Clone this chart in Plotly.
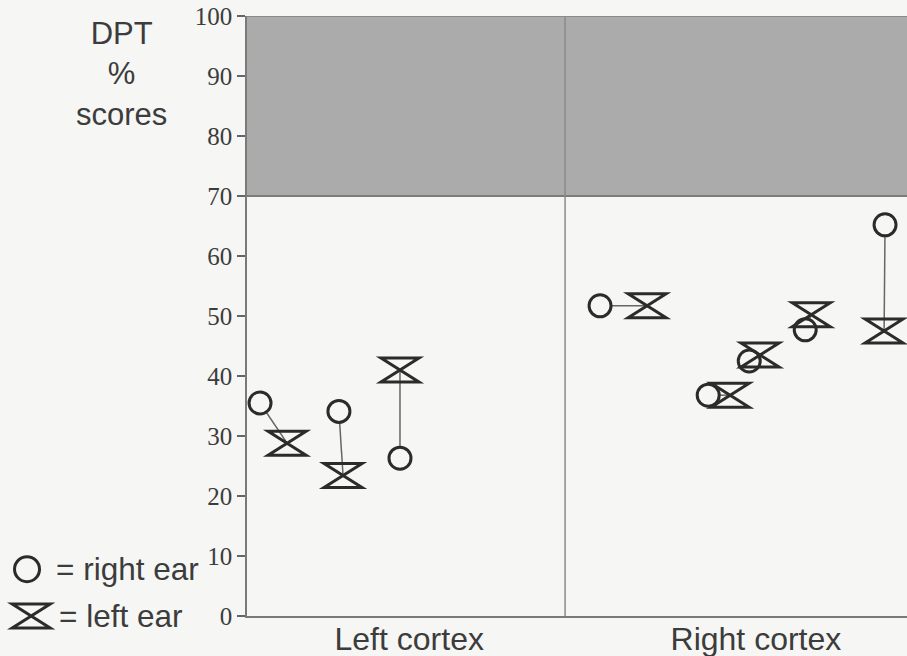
import plotly.graph_objects as go

# ---- data ----
region_labels = ["Left cortex", "Right cortex"]
region_centers = [0.51, 1.60]          # x position of region labels (axis units)
region_divider = 1.0

# x position of each subject's points (axis units)
right_ear_x = [0.041, 0.289, 0.481, 1.110, 1.450, 1.579, 1.755, 2.006]
left_ear_x  = [0.126, 0.302, 0.481, 1.258, 1.519, 1.613, 1.774, 2.003]
# DPT % scores
right_ear_y = [35.5, 34.1, 26.3, 51.7, 36.8, 42.5, 47.7, 65.2]
left_ear_y  = [28.8, 23.4, 41.0, 51.7, 36.8, 43.5, 50.2, 47.5]

y_ticks = [0, 10, 20, 30, 40, 50, 60, 70, 80, 90, 100]
shaded_band = [70, 100]
x_range = [0, 2.075]

BG = "#f6f6f4"
INK = "#2b2b2b"
TXT = "#3c3c3c"
AXIS = "#7a7a7a"
SANS = "Liberation Sans, Arial, sans-serif"
SERIF = "Liberation Serif, Times New Roman, serif"

fig = go.Figure()

# connecting lines between the two ears of each subject
lx, ly = [], []
for xr, yr, xl, yl in zip(right_ear_x, right_ear_y, left_ear_x, left_ear_y):
    lx += [xr, xl, None]
    ly += [yr, yl, None]
fig.add_trace(go.Scatter(x=lx, y=ly, mode="lines",
                         line=dict(color="#666666", width=1.5),
                         hoverinfo="skip", showlegend=False))

# right ear: open circles
fig.add_trace(go.Scatter(x=right_ear_x, y=right_ear_y, mode="markers",
                         name="right ear",
                         marker=dict(symbol="circle", size=22, color=BG,
                                     line=dict(color=INK, width=3)),
                         showlegend=False))

# left ear: invisible anchor trace (hourglass drawn as pixel-sized shapes)
fig.add_trace(go.Scatter(x=left_ear_x, y=left_ear_y, mode="markers",
                         name="left ear",
                         marker=dict(symbol="hourglass-open", size=1, color="rgba(0,0,0,0)"),
                         showlegend=False))

HG_PATH = "M-19,-12 H19 L-19,12 H19 Z"

shapes = []
# shaded band 70-100
shapes.append(dict(type="rect", xref="paper", yref="y", x0=0, x1=1,
                   y0=shaded_band[0], y1=shaded_band[1],
                   fillcolor="#ababab", line=dict(width=0), layer="below"))
# band lower edge
shapes.append(dict(type="line", xref="paper", yref="y", x0=0, x1=1,
                   y0=shaded_band[0], y1=shaded_band[0],
                   line=dict(color="#7c7c7c", width=2), layer="below"))
# top border
shapes.append(dict(type="line", xref="paper", yref="y", x0=0, x1=1,
                   y0=shaded_band[1], y1=shaded_band[1],
                   line=dict(color="#8a8a8a", width=2), layer="below"))
# divider between cortices
shapes.append(dict(type="line", xref="x", yref="y", x0=region_divider, x1=region_divider,
                   y0=0, y1=shaded_band[1],
                   line=dict(color="#8a8a8a", width=1.5), layer="below"))

# hourglass markers for left ear
for xl, yl in zip(left_ear_x, left_ear_y):
    shapes.append(dict(type="path", xref="x", yref="y",
                       xsizemode="pixel", ysizemode="pixel",
                       xanchor=xl, yanchor=yl, path=HG_PATH,
                       line=dict(color=INK, width=3), layer="above"))

# legend symbols
shapes.append(dict(type="circle", xref="paper", yref="paper",
                   xsizemode="pixel", ysizemode="pixel",
                   xanchor=-0.3333, yanchor=0.078,
                   x0=-12.5, x1=12.5, y0=-12.5, y1=12.5,
                   line=dict(color=INK, width=3)))
shapes.append(dict(type="path", xref="paper", yref="paper",
                   xsizemode="pixel", ysizemode="pixel",
                   xanchor=-0.327, yanchor=0.0, path=HG_PATH,
                   line=dict(color=INK, width=3)))

annotations = [
    dict(text="DPT<br>%<br>scores", xref="paper", yref="paper",
         x=-0.19, y=0.903, xanchor="center", yanchor="middle",
         showarrow=False, font=dict(family=SANS, size=31, color=TXT)),
    dict(text="= right ear", xref="paper", yref="paper",
         x=-0.292, y=0.078, xanchor="left", yanchor="middle",
         showarrow=False, font=dict(family=SANS, size=31.5, color=TXT)),
    dict(text="= left ear", xref="paper", yref="paper",
         x=-0.288, y=0.0, xanchor="left", yanchor="middle",
         showarrow=False, font=dict(family=SANS, size=31.5, color=TXT)),
]

fig.update_layout(
    width=907, height=656,
    margin=dict(l=247, r=0, t=16, b=40),
    paper_bgcolor=BG, plot_bgcolor=BG,
    shapes=shapes, annotations=annotations,
    showlegend=False,
    xaxis=dict(range=x_range, showgrid=False, zeroline=False, automargin=False,
               showline=True, linecolor=AXIS, linewidth=1.5,
               tickmode="array", tickvals=region_centers, ticktext=region_labels,
               ticks="", ticklabelstandoff=-6,
               tickfont=dict(family=SANS, size=32, color=TXT)),
    yaxis=dict(range=[0, 100], showgrid=False, zeroline=False, automargin=False,
               showline=True, linecolor=AXIS, linewidth=1.5,
               tickmode="array", tickvals=y_ticks,
               ticks="outside", ticklen=8, tickwidth=1.5, tickcolor="#666666",
               tickfont=dict(family=SERIF, size=25, color=TXT)),
)

fig.write_html(
    "out.html",
    config={"displayModeBar": False},
    post_script="document.body.style.margin='0';document.body.style.background='" + BG + "';",
)
